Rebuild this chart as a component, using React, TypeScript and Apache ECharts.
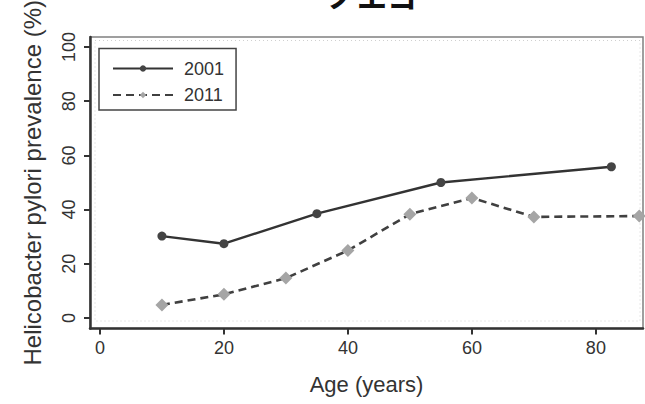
import React, { useEffect, useRef } from "react";
import * as echarts from "echarts";

const ages2001 = [10, 20, 35, 55, 82.5];
const prev2001 = [30.2, 27.4, 38.5, 50, 55.8];
const ages2011 = [10, 20, 30, 40, 50, 60, 70, 87];
const prev2011 = [4.8, 8.7, 14.7, 24.9, 38.3, 44.3, 37.3, 37.6];
const xTicks = [0, 20, 40, 60, 80];
const yTicks = [0, 20, 40, 60, 80, 100];
const seriesNames = ["2001", "2011"];
const FONT = "'Liberation Sans', Arial, Helvetica, sans-serif";

export default function App() {
  const ref = useRef<HTMLDivElement>(null);
  useEffect(() => {
    if (!ref.current) return;
    const chart = echarts.init(ref.current, undefined, { renderer: "svg" });
    const option: any = {
      animation: false,
      backgroundColor: "#ffffff",
      textStyle: { fontFamily: FONT },
      grid: {
        left: 90,
        right: 2,
        top: 37,
        bottom: 75.5,
        show: true,
        containLabel: false,
        outerBoundsMode: "none",
        borderColor: "#808080",
        borderWidth: 1.5,
        backgroundColor: "transparent",
      },
      legend: {
        left: 99,
        top: 48.5,
        orient: "vertical",
        data: seriesNames,
        itemWidth: 60,
        itemHeight: 8,
        itemGap: 8.5,
        borderColor: "#444",
        borderWidth: 1.5,
        padding: [11, 12, 6, 13],
        textStyle: { fontSize: 18, color: "#333", fontFamily: FONT, lineHeight: 14, padding: [0, 0, 0, 6] },
      },
      graphic: [
        {
          type: "rect",
          z: 0,
          silent: true,
          shape: { x: 95, y: 40.5, width: 545, height: 280.5 },
          style: { fill: "none", stroke: "#d0d0d0", lineWidth: 1, lineDash: [1, 3] },
        },
        {
          type: "text",
          x: 327,
          y: 10,
          silent: true,
          style: {
            text: "ノエコ",
            fontSize: 30,
            fontWeight: "bold",
            fontFamily: "'Noto Sans CJK JP', sans-serif",
            fill: "#111",
            textVerticalAlign: "bottom",
            verticalAlign: "bottom",
          },
        },
      ],
      xAxis: {
        type: "value",
        min: -1.6,
        max: 87.6,
        name: "Age (years)",
        nameLocation: "middle",
        nameGap: 45,
        nameTextStyle: { fontSize: 22, color: "#333", fontFamily: FONT },
        axisLine: { show: true, onZero: false, lineStyle: { color: "#333", width: 2.5 } },
        axisTick: { show: true, customValues: xTicks, length: 6, lineStyle: { color: "#333", width: 2 } },
        axisLabel: { customValues: xTicks, fontSize: 18, color: "#333", margin: 10, fontFamily: FONT },
        splitLine: { show: false },
      },
      yAxis: {
        type: "value",
        min: -3.9,
        max: 103.7,
        name: "Helicobacter pylori prevalence (%)",
        nameLocation: "middle",
        nameGap: 46,
        nameRotate: 90,
        nameTextStyle: { fontSize: 24, color: "#333", fontFamily: FONT },
        axisLine: { show: true, onZero: false, lineStyle: { color: "#333", width: 2.5 } },
        axisTick: { show: true, customValues: yTicks, length: 6, lineStyle: { color: "#333", width: 2 } },
        axisLabel: { customValues: yTicks, fontSize: 18, color: "#333", margin: 12, rotate: 90, fontFamily: FONT },
        splitLine: { show: false },
      },
      series: [
        {
          name: seriesNames[0],
          type: "line",
          data: ages2001.map((a, i) => [a, prev2001[i]]),
          symbol: "circle",
          symbolSize: 9,
          showSymbol: true,
          itemStyle: { color: "#444444" },
          lineStyle: { color: "#333333", width: 2.4, type: "solid" },
          z: 3,
        },
        {
          name: seriesNames[1],
          type: "line",
          data: ages2011.map((a, i) => [a, prev2011[i]]),
          symbol: "diamond",
          symbolSize: 13,
          showSymbol: true,
          itemStyle: { color: "#a5a5a5" },
          lineStyle: { color: "#404040", width: 2.6, type: [8, 5] },
          z: 2,
        },
      ],
    };
    chart.setOption(option);
    return () => chart.dispose();
  }, []);
  return <div ref={ref} style={{ width: 645, height: 404, position: "fixed", left: 0, top: 0 }} />;
}
